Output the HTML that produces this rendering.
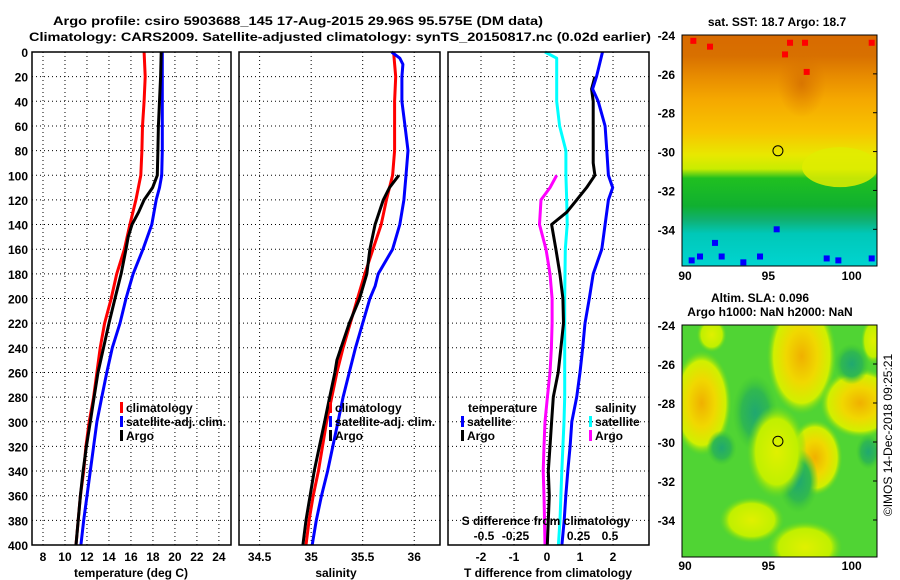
<!DOCTYPE html>
<html><head><meta charset="utf-8">
<style>
html,body{margin:0;padding:0;background:#fff;}
svg{display:block;}
text{font-family:"Liberation Sans",Arial,sans-serif;font-weight:bold;font-size:12px;fill:#000;}
</style></head>
<body>
<svg id="fig" width="900" height="580" viewBox="0 0 900 580">
<defs>
<linearGradient id="sstGrad" x1="0" y1="0" x2="0" y2="1">
<stop offset="0" stop-color="#d86a00"/>
<stop offset="0.09" stop-color="#d87000"/>
<stop offset="0.18" stop-color="#e88c00"/>
<stop offset="0.28" stop-color="#f5a800"/>
<stop offset="0.42" stop-color="#f8c400"/>
<stop offset="0.52" stop-color="#e8e800"/>
<stop offset="0.58" stop-color="#c8ec00"/>
<stop offset="0.62" stop-color="#20c020"/>
<stop offset="0.74" stop-color="#10b030"/>
<stop offset="0.8" stop-color="#10b070"/>
<stop offset="0.86" stop-color="#00c8b8"/>
<stop offset="1" stop-color="#00d4d0"/>
</linearGradient>
<radialGradient id="hiBlob"><stop offset="0" stop-color="#f0b000"/><stop offset="0.45" stop-color="#f0d800"/><stop offset="0.8" stop-color="#d0f000"/><stop offset="1" stop-color="#60d820" stop-opacity="0"/></radialGradient>
<radialGradient id="ylBlob"><stop offset="0" stop-color="#e0f000"/><stop offset="0.7" stop-color="#c0f000"/><stop offset="1" stop-color="#60d820" stop-opacity="0"/></radialGradient>
<radialGradient id="loBlob"><stop offset="0" stop-color="#20a870"/><stop offset="0.6" stop-color="#30b850"/><stop offset="1" stop-color="#40c830" stop-opacity="0"/></radialGradient>
<radialGradient id="dkBlob"><stop offset="0" stop-color="#d06800" stop-opacity="0.7"/><stop offset="1" stop-color="#d87000" stop-opacity="0"/></radialGradient>
<clipPath id="clipTop"><rect x="682" y="35" width="195" height="231"/></clipPath>
<clipPath id="clipBot"><rect x="682" y="325" width="195" height="232"/></clipPath>
</defs>
<text x="298" y="25" text-anchor="middle" font-size="13" textLength="490" lengthAdjust="spacingAndGlyphs">Argo profile: csiro 5903688_145 17-Aug-2015 29.96S 95.575E (DM data)</text>
<text x="340" y="41" text-anchor="middle" font-size="13" textLength="622" lengthAdjust="spacingAndGlyphs">Climatology: CARS2009. Satellite-adjusted climatology: synTS_20150817.nc (0.02d earlier)</text>
<g id="panels"></g>
<g id="maps"></g>
<text transform="translate(892,435) rotate(-90)" text-anchor="middle" font-size="12" style="font-weight:normal">©IMOS 14-Dec-2018 09:25:21</text>
</svg>
<script>
// ---- data ----
const depthTicks = [0,20,40,60,80,100,120,140,160,180,200,220,240,260,280,300,320,340,360,380,400];
const tempTicks = [8,10,12,14,16,18,20,22,24];
const salTicks = [34.5,35,35.5,36];
const salTickLabels = ["34.5","35","35.5","36"];
const tdiffTicks = [-2,-1,0,1,2];
const sdiffTicks = [-0.5,-0.25,0.25,0.5];
const sdiffTickLabels = ["-0.5","-0.25","0.25","0.5"];

const tClimDepth = [0,20,40,60,80,100,120,140,160,180,200,220,240,260,280,300,320,340,360,380,400];
const tClim = [17.2,17.3,17.2,17.05,17.0,16.9,16.45,15.9,15.4,14.7,14.2,13.6,13.2,12.9,12.6,12.2,11.9,11.7,11.4,11.2,11.0];
const tArgoDepth = [0,20,40,60,80,100,110,120,130,140,150,160,180,200,220,240,260,280,300,320,340,360,380,400];
const tArgo = [18.75,18.7,18.6,18.5,18.45,18.4,17.97,17.2,16.7,16.1,15.75,15.55,15.1,14.55,14.0,13.5,13.0,12.65,12.3,11.95,11.65,11.4,11.2,11.0];
const tSatDepth = [0,20,40,60,80,100,110,120,140,160,180,200,220,240,260,280,300,320,340,360,380,400];
const tSat = [18.85,18.85,18.85,18.85,18.85,18.8,18.6,18.3,17.9,17.1,16.2,15.55,15.0,14.3,13.8,13.35,12.9,12.6,12.3,12.0,11.7,11.45];

const sClimDepth = [0,20,40,60,80,100,110,120,140,160,180,200,220,240,260,280,300,320,340,360,380,400];
const sClim = [35.80,35.82,35.81,35.81,35.81,35.79,35.76,35.73,35.68,35.60,35.52,35.45,35.38,35.31,35.25,35.20,35.15,35.11,35.07,35.02,34.98,34.95];
const sArgoDepth = [100,110,120,140,160,180,200,220,240,250,260,280,300,320,340,360,380,400];
const sArgo = [35.85,35.76,35.70,35.62,35.57,35.54,35.47,35.37,35.29,35.25,35.23,35.18,35.13,35.08,35.03,34.99,34.95,34.92];
const sSatDepth = [0,5,10,20,40,60,80,100,120,140,160,180,190,200,220,240,260,280,300,320,340,360,380,400];
const sSat = [35.78,35.86,35.89,35.88,35.88,35.91,35.94,35.92,35.90,35.86,35.79,35.65,35.62,35.57,35.50,35.43,35.37,35.31,35.26,35.21,35.16,35.10,35.05,35.01];

const dTSatDepth = [0,20,30,40,60,80,100,110,120,140,160,180,200,220,240,260,280,300,320,340,360,380,400];
const dTSat = [1.68,1.5,1.38,1.55,1.76,1.81,1.86,1.99,1.86,1.76,1.66,1.40,1.28,1.15,1.08,1.0,0.9,0.75,0.70,0.63,0.57,0.52,0.45];
const dTArgoDepth = [20,30,40,60,80,90,100,110,120,130,140,160,180,200,220,240,260,280,300,320,340,360,380,400];
const dTArgo = [1.45,1.35,1.40,1.40,1.40,1.40,1.45,1.20,0.90,0.60,0.14,0.27,0.39,0.48,0.50,0.42,0.34,0.19,0.14,0.09,0.04,0.07,0.04,0.01];
const dSSatDepth = [0,5,20,40,60,80,100,120,140,160,200,240,280,300,340,380,400];
const dSSat = [-0.016,0.077,0.077,0.077,0.10,0.15,0.15,0.156,0.16,0.145,0.14,0.14,0.14,0.135,0.117,0.103,0.09];
const dSArgoDepth = [100,110,120,140,160,180,200,220,240,260,280,300,320,340,360,380,400];
const dSArgo = [0.077,0.024,-0.048,-0.06,-0.008,0.024,0.04,0.04,0.035,0.024,0.003,-0.016,-0.024,-0.03,-0.024,-0.02,-0.016];

const mapLatTicks = [-24,-26,-28,-30,-32,-34];
const mapLonTicks = [90,95,100];
const argoLon = 95.575, argoLat = -29.96;
const slaLon = [97.0,91.0,100.5,97.8,94.0,97.2,91.6,101.3,94.2,92.2,96.8,100.0,101.0,95.5];
const slaLat = [-25.6,-28.0,-28.0,-30.8,-34.0,-35.4,-24.5,-24.8,-28.5,-30.3,-32.0,-26.0,-30.5,-30.5];
const slaRx  = [1.4,1.2,1.6,1.1,1.3,1.5,0.6,0.5,0.9,0.6,0.8,0.7,0.5,1.2];
const slaRy  = [2.0,1.8,1.2,1.3,0.8,0.9,0.6,0.8,1.3,0.6,1.1,0.7,0.6,1.6];
const slaKind= ["hi","hi","hi","hi","yl","yl","yl","yl","lo","lo","lo","lo","lo","yl"];

// ---- helpers ----
const NS = "http://www.w3.org/2000/svg";
const P = document.getElementById('panels');
const M = document.getElementById('maps');
function mk(tag, attrs, parent){const e=document.createElementNS(NS,tag);for(const k in attrs)e.setAttribute(k,attrs[k]);(parent||P).appendChild(e);return e;}
const yTop=52, yBot=545;
function yD(d){return yTop + d/400*(yBot-yTop);}
const panels = [
 {x0:32,x1:231,v0:7.0,v1:25.1,name:'temperature'},
 {x0:239,x1:440,v0:34.3,v1:36.25,name:'salinity'},
 {x0:448,x1:649,v0:-3.0,v1:3.09,name:'tdiff'}
];
function xs(p,v){return p.x0 + (v-p.v0)/(p.v1-p.v0)*(p.x1-p.x0);}
const pT=panels[0], pS=panels[1], pD=panels[2];
function xT(v){return xs(pT,v);} function xS(v){return xs(pS,v);} function xD(v){return xs(pD,v);}
function xSd(v){return xD(0) + v*126;}

panels.forEach(p=>{
  depthTicks.forEach(d=>{
    const l=mk('line',{x1:p.x0,x2:p.x1,y1:yD(d),y2:yD(d),stroke:'#000','stroke-width':1,'stroke-dasharray':'1,3'});
    
    
  });
});
function vgrid(p,ticks,fn){ticks.forEach(t=>{const l=mk('line',{x1:fn(t),x2:fn(t),y1:yTop,y2:yBot,stroke:'#000','stroke-width':1,'stroke-dasharray':'1,3'});
  
  });}
vgrid(pT,tempTicks,xT); vgrid(pS,salTicks,xS); vgrid(pD,tdiffTicks,xD);

function line(dep,vals,fn,color,w,name){
  const pts=dep.map((d,i)=>fn(vals[i]).toFixed(1)+','+yD(d).toFixed(1)).join(' ');
  const e=mk('polyline',{points:pts,fill:'none',stroke:color,'stroke-width':w,'stroke-linejoin':'round'});
  
  
}
line(tClimDepth,tClim,xT,'#ff0000',3,'temp-climatology-line');
line(tSatDepth,tSat,xT,'#0000ff',3,'temp-satellite-line');
line(tArgoDepth,tArgo,xT,'#000',3,'temp-argo-line');
line(sClimDepth,sClim,xS,'#ff0000',3,'sal-climatology-line');
line(sSatDepth,sSat,xS,'#0000ff',3,'sal-satellite-line');
line(sArgoDepth,sArgo,xS,'#000',3,'sal-argo-line');
line(dSSatDepth,dSSat,xSd,'#00ffff',3,'sdiff-satellite-line');
line(dSArgoDepth,dSArgo,xSd,'#ff00ff',3,'sdiff-argo-line');
line(dTArgoDepth,dTArgo,xD,'#000',3,'tdiff-argo-line');
line(dTSatDepth,dTSat,xD,'#0000ff',3,'tdiff-satellite-line');

panels.forEach(p=>{
  const r=mk('rect',{x:p.x0,y:yTop,width:p.x1-p.x0,height:yBot-yTop,fill:'none',stroke:'#000','stroke-width':1.5});
  
  
});
depthTicks.forEach(d=>{
  const t=mk('text',{x:28,y:yD(d)+5,'text-anchor':'end'}); t.textContent=d;
  
  
});
function xlabels(ticks,labels,fn,y){ticks.forEach((v,i)=>{const t=mk('text',{x:fn(v),y:y,'text-anchor':'middle'});t.textContent=labels[i];
  
  });}
xlabels(tempTicks,tempTicks.map(String),xT,561);
xlabels(salTicks,salTickLabels,xS,561);
xlabels(tdiffTicks,tdiffTicks.map(String),xD,561);
xlabels(sdiffTicks,sdiffTickLabels,xSd,540);
function txt(x,y,s,name,anchor){const t=mk('text',{x:x,y:y,'text-anchor':anchor||'start'});t.textContent=s;
  
  return t;}
txt(131,577,'temperature (deg C)','temp-axis-title','middle');
txt(336,577,'salinity','sal-axis-title','middle');
txt(548,577,'T difference from climatology','tdiff-axis-title','middle');
txt(546,525,'S difference from climatology','sdiff-axis-title','middle');
function leg(x,y,color,label,name){
  const b=mk('rect',{x:x,y:y-10,width:3,height:11,fill:color});
  
  
  txt(x+6,y,label,name,'start');
}
leg(120,412,'#ff0000','climatology','legend-temp-climatology');
leg(120,426,'#0000ff','satellite-adj. clim.','legend-temp-satellite');
leg(120,440,'#000','Argo','legend-temp-argo');
leg(329,412,'#ff0000','climatology','legend-sal-climatology');
leg(329,426,'#0000ff','satellite-adj. clim.','legend-sal-satellite');
leg(329,440,'#000','Argo','legend-sal-argo');
txt(468,412,'temperature','legend-temperature-heading','start');
leg(461,426,'#0000ff','satellite','legend-tdiff-satellite');
leg(461,440,'#000','Argo','legend-tdiff-argo');
txt(595,412,'salinity','legend-salinity-heading','start');
leg(589,426,'#00ffff','satellite','legend-sdiff-satellite');
leg(589,440,'#ff00ff','Argo','legend-sdiff-argo');

// ---- maps ----
function mapGeo(top,bot){ return {lx:(lon)=>685+(lon-90)*16.67, ly:(lat)=>top+(-24-lat)*bot}; }
const gT = mapGeo(35,19.43), gB = mapGeo(325,19.5);
function mk2(tag,attrs,parent){return mk(tag,attrs,parent||M);}
const gTop = mk2('g',{'clip-path':'url(#clipTop)'});


mk('rect',{x:682,y:35,width:195,height:231,fill:'url(#sstGrad)'},gTop);
mk('ellipse',{cx:gT.lx(99.3),cy:gT.ly(-30.8),rx:38,ry:20,fill:'#e0ec00',opacity:0.85},gTop);
mk('ellipse',{cx:gT.lx(97),cy:gT.ly(-26.5),rx:24,ry:34,fill:'url(#dkBlob)'},gTop);
[[90.5,-24.3],[91.5,-24.6],[96.3,-24.4],[97.2,-24.4],[96,-25.0],[97.3,-25.9],[101.2,-24.4]].forEach(c=>mk('rect',{x:gT.lx(c[0])-3,y:gT.ly(c[1])-3,width:6,height:6,fill:'#ff0000'},gTop));
[[90.4,-35.6],[90.9,-35.4],[92.2,-35.4],[93.5,-35.7],[94.5,-35.4],[98.5,-35.5],[99.2,-35.6],[101.2,-35.5],[95.5,-34.0],[91.8,-34.7]].forEach(c=>mk('rect',{x:gT.lx(c[0])-3,y:gT.ly(c[1])-3,width:6,height:6,fill:'#0000ff'},gTop));
mk2('rect',{x:682,y:35,width:195,height:231,fill:'none',stroke:'#000','stroke-width':1});
mk2('circle',{cx:gT.lx(argoLon),cy:gT.ly(argoLat),r:5,fill:'none',stroke:'#000','stroke-width':1});
const gBot = mk2('g',{'clip-path':'url(#clipBot)'});


mk('rect',{x:682,y:325,width:195,height:232,fill:'#50d434'},gBot);
slaLon.forEach((lo,i)=>{
  const e=mk('ellipse',{cx:gB.lx(lo),cy:gB.ly(slaLat[i]),rx:slaRx[i]*16.67*1.5,ry:slaRy[i]*19.5*1.5,fill:'url(#'+slaKind[i]+'Blob)'},gBot);
  
  
});
mk2('rect',{x:682,y:325,width:195,height:232,fill:'none',stroke:'#000','stroke-width':1});
mk2('circle',{cx:gB.lx(argoLon),cy:gB.ly(argoLat),r:5,fill:'none',stroke:'#000','stroke-width':1});
[[gT,280],[gB,570]].forEach(([g,labY])=>{
  mapLatTicks.forEach(l=>{
    const t=mk2('text',{x:675,y:g.ly(l)+5,'text-anchor':'end'}); t.textContent=l;
    
    
    mk2('line',{x1:877,x2:873,y1:g.ly(l),y2:g.ly(l),stroke:'#000'});
  });
  mapLonTicks.forEach(l=>{
    const t=mk2('text',{x:g.lx(l),y:labY,'text-anchor':'middle'}); t.textContent=l;
    
    
  });
});
function mt(x,y,s,name){const t=mk2('text',{x:x,y:y,'text-anchor':'middle'});t.textContent=s;
  
  }
mt(777,26,'sat. SST: 18.7 Argo: 18.7','sst-map-title');
mt(760,302,'Altim. SLA: 0.096','sla-map-title');
mt(770,316,'Argo h1000: NaN h2000: NaN','sla-map-subtitle');
</script>
</body></html>
